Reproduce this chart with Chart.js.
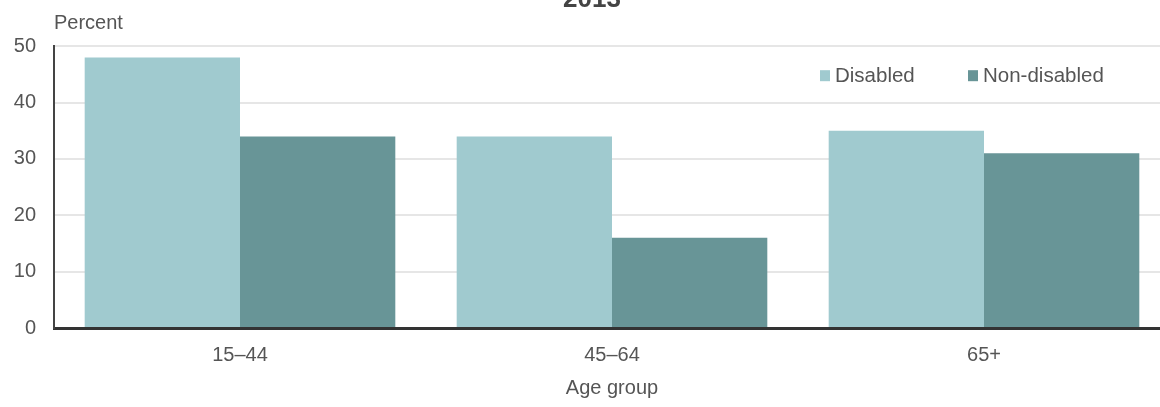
<!DOCTYPE html>
<html>
<head>
<meta charset="utf-8">
<script src="https://cdn.jsdelivr.net/npm/chart.js@4/dist/chart.umd.min.js"></script>
<style>
    html, body { margin: 0; padding: 0; background: #fff; overflow: hidden; }
    #wrap { position: absolute; left: 0; top: -16px; width: 1170px; height: 423px; }
</style>
</head>
<body>
<div id="wrap"><canvas id="ageChart"></canvas></div>
<script>
// Data
const ageGroups = ['15\u201344', '45\u201364', '65+'];
const disabled = [48, 34, 35];
const nonDisabled = [34, 16, 31];
const seriesNames = ['Disabled', 'Non-disabled'];
const yTicks = [0, 10, 20, 30, 40, 50];

const colors = {
    disabled: '#a0cacf',
    nonDisabled: '#689597',
    text: '#555555',
    axis: '#333333',
    grid: '#e6e6e6'
};

const FONT = '"Liberation Sans", Arial, sans-serif';

// "Percent" label above the y axis and a legend inside the plot
const extrasPlugin = {
    id: 'extras',
    afterDraw(chart) {
        const ctx = chart.ctx;
        const area = chart.chartArea;
        ctx.save();
        ctx.font = '20px ' + FONT;
        ctx.fillStyle = colors.text;
        ctx.textBaseline = 'middle';
        ctx.textAlign = 'left';
        ctx.fillText('Percent', area.left, area.top - 23);

        // legend items, right side of plot
        ctx.font = '20.5px ' + FONT;
        const items = [
            { x: 766, color: colors.disabled, text: seriesNames[0] },
            { x: 914, color: colors.nonDisabled, text: seriesNames[1] }
        ];
        const y = area.top + 29;
        items.forEach(it => {
            ctx.fillStyle = it.color;
            ctx.fillRect(area.left + it.x, y - 5, 10, 11);
            ctx.fillStyle = colors.text;
            ctx.fillText(it.text, area.left + it.x + 15, y + 1);
        });
        ctx.restore();
    }
};

const chart = new Chart(document.getElementById('ageChart').getContext('2d'), {
    type: 'bar',
    data: {
        labels: ageGroups,
        datasets: [
            {
                label: seriesNames[0],
                data: disabled,
                backgroundColor: colors.disabled,
                borderWidth: 0
            },
            {
                label: seriesNames[1],
                data: nonDisabled,
                backgroundColor: colors.nonDisabled,
                borderWidth: 0
            }
        ]
    },
    options: {
        responsive: true,
        maintainAspectRatio: false,
        animation: false,
        devicePixelRatio: 1,
        datasets: {
            bar: { categoryPercentage: 0.835, barPercentage: 1.0 }
        },
        layout: {
            padding: { left: 14, right: 0, top: 0, bottom: 7 }
        },
        plugins: {
            legend: { display: false },
            tooltip: { enabled: false },
            title: {
                display: true,
                text: '2013',
                color: '#444',
                font: { family: FONT, size: 26, weight: 'bold' },
                padding: { top: 0, bottom: 31 }
            }
        },
        scales: {
            x: {
                grid: { display: false, drawTicks: false },
                border: { display: true, color: colors.axis, width: 3 },
                ticks: {
                    color: colors.text,
                    font: { family: FONT, size: 20 },
                    padding: 15,
                    maxRotation: 0
                },
                title: {
                    display: true,
                    text: 'Age group',
                    color: colors.text,
                    font: { family: FONT, size: 20 },
                    padding: { top: 9, bottom: 0 }
                },
                afterFit: (scale) => {
                    scale.height = 72;
                    scale.paddingLeft = 0;
                    scale.paddingRight = 0;
                }
            },
            y: {
                min: 0,
                max: 50,
                afterBuildTicks: (scale) => {
                    scale.ticks = yTicks.map(v => ({ value: v }));
                },
                grid: { color: colors.grid, lineWidth: 2, drawTicks: false },
                border: { display: true, color: '#444', width: 2 },
                ticks: {
                    color: colors.text,
                    font: { family: FONT, size: 20 },
                    padding: 18
                },
                afterFit: (scale) => {
                    scale.width = 40;
                }
            }
        }
    },
    plugins: [extrasPlugin]
});
</script>
</body>
</html>
